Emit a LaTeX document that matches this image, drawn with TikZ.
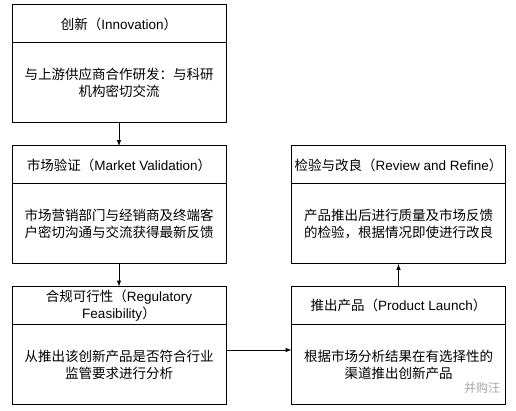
\documentclass[tikz,border=0pt]{standalone}
\usepackage{fontspec}
\setmainfont{Liberation Sans}
\newfontfamily\cjk{Noto Sans CJK SC}
\newcommand{\zh}[1]{{\cjk #1}}
\usepackage{tikz}
\usetikzlibrary{positioning,arrows}

\begin{document}
\begin{tikzpicture}[x=1pt,y=1pt]
\tikzstyle{head}=[rectangle, draw=black, line width=1pt, minimum width=214pt, minimum height=38pt, inner sep=2pt, outer sep=0pt, align=center, font=\fontsize{13.5}{17}\selectfont]
\tikzstyle{body}=[rectangle, draw=black, line width=1pt, minimum width=214pt, minimum height=80pt, inner sep=2pt, outer sep=0pt, align=center, font=\fontsize{13.5}{17}\selectfont]
\tikzstyle{connect}=[-latex, line width=1pt]
\useasboundingbox (0,0) rectangle (516,-411);
	\node[head] (h_1) at (119,-24) {\zh{创新（}Innovation\zh{）}};
	\node[body] (b_1) [below=0pt of h_1] {\zh{与上游供应商合作研发：与科研}\\\zh{机构密切交流}};
	\node[head] (h_2) at (119,-165) {\zh{市场验证（}Market Validation\zh{）}};
	\node[body] (b_2) [below=0pt of h_2] {\zh{市场营销部门与经销商及终端客}\\\zh{户密切沟通与交流获得最新反馈}};
	\node[head] (h_3) at (119,-305.5) {\zh{合规可行性（}Regulatory\\Feasibility\zh{）}};
	\node[body] (b_3) [below=0pt of h_3] {\zh{从推出该创新产品是否符合行业}\\\zh{监管要求进行分析}};
	\node[head] (h_4) at (398.5,-165) {\zh{检验与改良（}Review and Refine\zh{）}};
	\node[body] (b_4) [below=0pt of h_4] {\zh{产品推出后进行质量及市场反馈}\\\zh{的检验，根据情况即使进行改良}};
	\node[head] (h_5) at (398.5,-305.5) {\zh{推出产品（}Product Launch\zh{）}};
	\node[body] (b_5) [below=0pt of h_5] {\zh{根据市场分析结果在有选择性的}\\\zh{渠道推出创新产品}};
	\node[text=black!35, font=\fontsize{12}{14}\selectfont] (mark) at (482,-388) {\zh{并购汪}};

	\path
		(b_1) edge [connect] (h_2)
		(b_2) edge [connect] (h_3)
		([yshift=14.5pt]b_3.east) edge [connect] ([yshift=14.5pt]b_5.west)
		(h_5) edge [connect] (b_4);

\end{tikzpicture}
\end{document}
